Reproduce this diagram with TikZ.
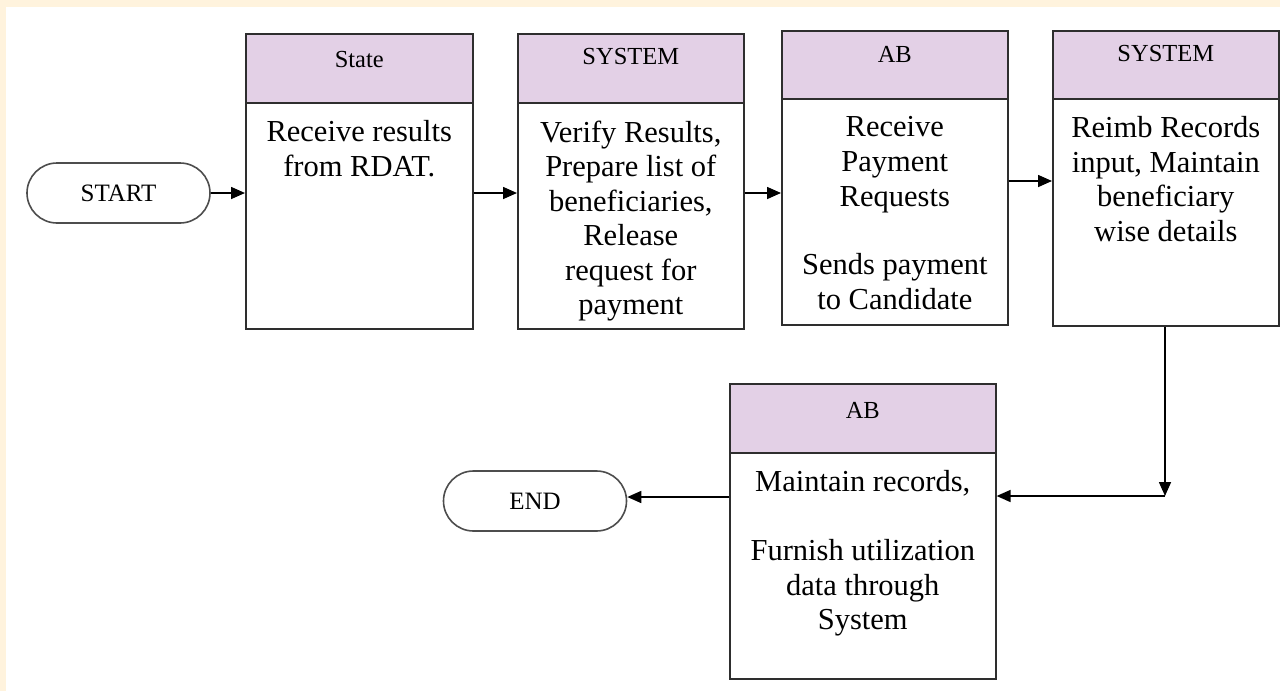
\documentclass[tikz,border=0pt]{standalone}
\usepackage{fontspec}
\setmainfont{Liberation Serif}
\newfontfamily\bodyserif{Liberation Serif}
\usetikzlibrary{arrows.meta,shapes.misc,calc}
\definecolor{cream}{HTML}{FFF3DD}
\definecolor{lav}{HTML}{E3D0E6}
\definecolor{edge}{HTML}{2E2E2E}
\begin{document}
\begin{tikzpicture}[x=1pt,y=-1pt,
  boxn/.style={draw=edge, line width=1.6pt, fill=white, inner sep=0pt, anchor=north west},
  hdr/.style={draw=edge, line width=1.6pt, fill=lav, inner sep=0pt, anchor=north west},
  hlabel/.style={font=\bodyserif\fontsize{24.5}{28}\selectfont, inner sep=0pt, anchor=north},
  btxt/.style={font=\bodyserif\fontsize{30.5}{34.5}\selectfont, align=center, inner sep=0pt, anchor=north},
  term/.style={rounded rectangle, draw=edge!85, line width=1.6pt, minimum width=183pt, minimum height=60pt, inner sep=0pt, font=\bodyserif\fontsize{25}{30}\selectfont},
  arr/.style={draw=black, line width=1.6pt, -{Triangle[length=14pt,width=12pt]}}]
\useasboundingbox (0,0) rectangle (1280,691);
\fill[cream] (0,0) rectangle (1280,691);
\fill[white] (6,7) rectangle (1280,691);

% terminals
\node[term] (start) at (118.5,193) {START};
\node[term] (endn) at (535,501) {END};

% box 1
\node[boxn, minimum width=227pt, minimum height=295pt] (b1) at (245,33) {};
\node[hdr, minimum width=227pt, minimum height=69pt] (h1) at (b1.north west) {};
\node[hlabel] (l1) at ($(h1.north)+(0,18)$) {State};
\node[btxt] (t1) at ($(h1.south)+(0,17)$) {Receive results\\from RDAT.};

% box 2
\node[boxn, minimum width=226pt, minimum height=295pt] (b2) at (517,33) {};
\node[hdr, minimum width=226pt, minimum height=69pt] (h2) at (b2.north west) {};
\node[hlabel] (l2) at ($(h2.north)+(0,15)$) {SYSTEM};
\node[btxt] (t2) at ($(h2.south)+(0,17)$) {Verify Results,\\Prepare list of\\beneficiaries,\\Release\\request for\\payment};

% box 3
\node[boxn, minimum width=226pt, minimum height=294pt] (b3) at (781,30) {};
\node[hdr, minimum width=226pt, minimum height=68pt] (h3) at (b3.north west) {};
\node[hlabel] (l3) at ($(h3.north)+(0,16)$) {AB};
\node[btxt] (t3) at ($(h3.south)+(0,17)$) {Receive\\Payment\\Requests\\[34.5pt]Sends payment\\to Candidate};

% box 4
\node[boxn, minimum width=226pt, minimum height=295pt] (b4) at (1052,30) {};
\node[hdr, minimum width=226pt, minimum height=68pt] (h4) at (b4.north west) {};
\node[hlabel] (l4) at ($(h4.north)+(0,15)$) {SYSTEM};
\node[btxt] (t4) at ($(h4.south)+(0,17)$) {Reimb Records\\input, Maintain\\beneficiary\\wise details};

% box 5
\node[boxn, minimum width=266pt, minimum height=295pt] (b5) at (729,383) {};
\node[hdr, minimum width=266pt, minimum height=69pt] (h5) at (b5.north west) {};
\node[hlabel] (l5) at ($(h5.north)+(0,19)$) {AB};
\node[btxt] (t5) at ($(h5.south)+(0,17)$) {Maintain records,\\[34.5pt]Furnish utilization\\data through\\System};

% connectors
\coordinate (ya) at (0,193);
\coordinate (yb) at (0,181);
\coordinate (corner) at (1165,496);
\coordinate (yc) at (0,497);
\draw[arr] (start.east) -- (b1.west |- ya);
\draw[arr] (b1.east |- ya) -- (b2.west |- ya);
\draw[arr] (b2.east |- ya) -- (b3.west |- ya);
\draw[arr] (b3.east |- yb) -- (b4.west |- yb);
\draw[arr] (b4.south -| corner) -- (corner);
\draw[arr] (corner) -- (b5.east |- corner);
\draw[arr] (b5.west |- yc) -- (endn.east |- yc);
\end{tikzpicture}
\end{document}
